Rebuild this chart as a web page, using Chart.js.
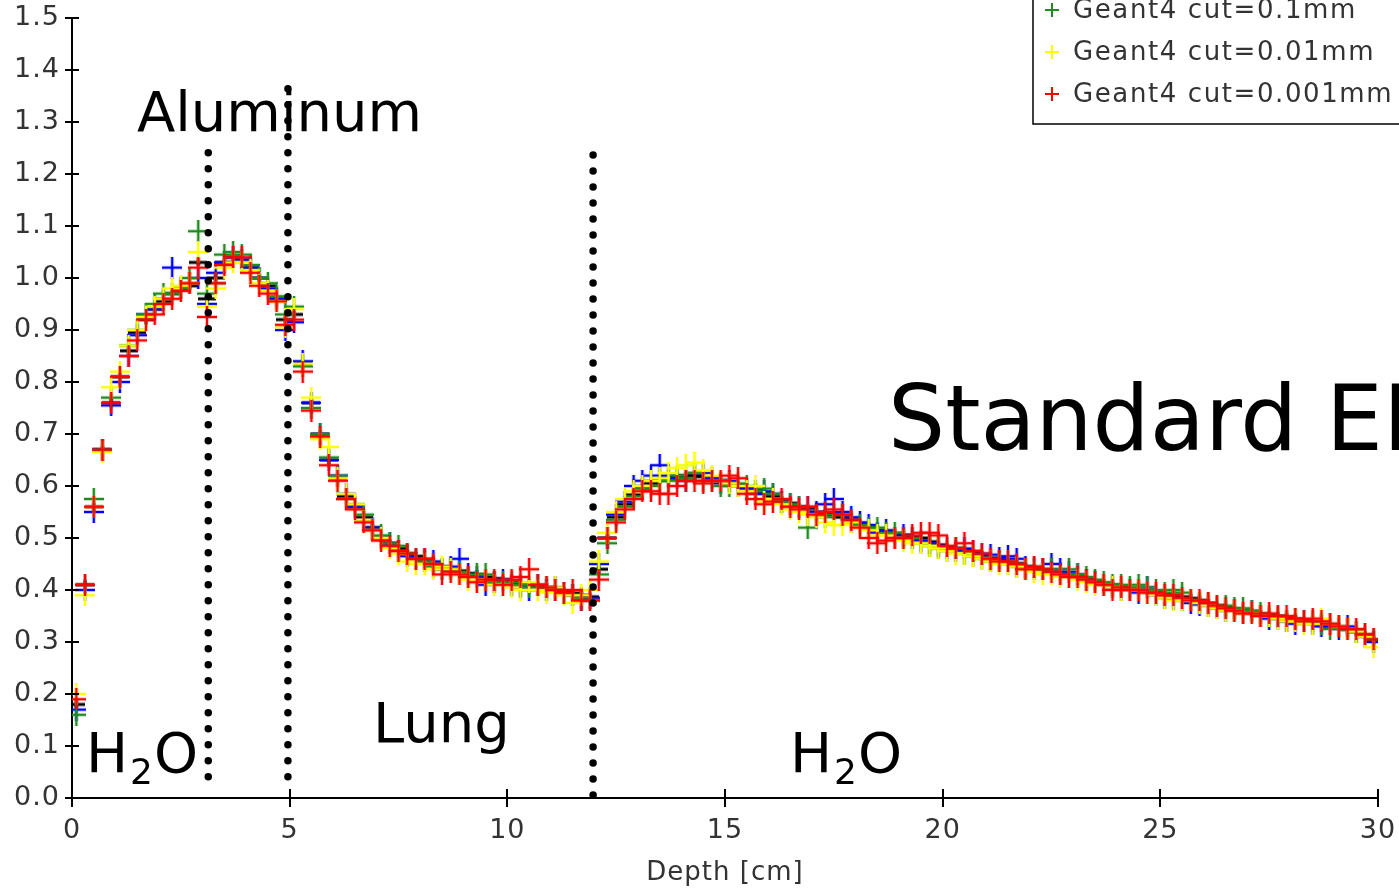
<!DOCTYPE html>
<html><head><meta charset="utf-8">
<script src="https://cdn.jsdelivr.net/npm/chart.js@4/dist/chart.umd.min.js"></script>
<style>html,body{margin:0;padding:0;background:#fff;overflow:hidden}#wrap{position:absolute;left:0;top:0;width:1399px;height:890px}</style>
</head><body><div id="wrap"><canvas id="c" width="1399" height="890"></canvas></div>
<script>
// bin centres [cm]
const depth = [0.1,0.3,0.5,0.7,0.9,1.1,1.3,1.5,1.7,1.9,2.1,2.3,2.5,2.7,2.9,3.1,3.3,3.5,3.7,3.9,
4.1,4.3,4.5,4.7,4.9,5.1,5.3,5.5,5.7,5.9,6.1,6.3,6.5,6.7,6.9,7.1,7.3,7.5,7.7,7.9,
8.1,8.3,8.5,8.7,8.9,9.1,9.3,9.5,9.7,9.9,10.1,10.3,10.5,10.7,10.9,11.1,11.3,11.5,11.7,11.9,
12.1,12.3,12.5,12.7,12.9,13.1,13.3,13.5,13.7,13.9,14.1,14.3,14.5,14.7,14.9,15.1,15.3,15.5,15.7,15.9,
16.1,16.3,16.5,16.7,16.9,17.1,17.3,17.5,17.7,17.9,18.1,18.3,18.5,18.7,18.9,19.1,19.3,19.5,19.7,19.9,
20.1,20.3,20.5,20.7,20.9,21.1,21.3,21.5,21.7,21.9,22.1,22.3,22.5,22.7,22.9,23.1,23.3,23.5,23.7,23.9,
24.1,24.3,24.5,24.7,24.9,25.1,25.3,25.5,25.7,25.9,26.1,26.3,26.5,26.7,26.9,27.1,27.3,27.5,27.7,27.9,
28.1,28.3,28.5,28.7,28.9,29.1,29.3,29.5,29.7,29.9];

const dataRef = [0.18,0.41,0.56,0.67,0.76,0.81,0.86,0.895,0.92,0.94,
0.955,0.97,0.98,0.985,1.03,0.96,1.0,1.03,1.04,1.035,
1.02,1.0,0.985,0.96,0.92,0.93,0.835,0.76,0.70,0.65,
0.615,0.58,0.56,0.54,0.52,0.50,0.49,0.48,0.47,0.465,
0.455,0.45,0.445,0.44,0.437,0.432,0.43,0.425,0.422,0.42,
0.416,0.413,0.41,0.408,0.405,0.402,0.398,0.394,0.39,0.387,
0.44,0.50,0.54,0.565,0.583,0.596,0.605,0.611,0.615,0.618,
0.62,0.62,0.618,0.615,0.611,0.605,0.602,0.596,0.592,0.586,
0.58,0.573,0.567,0.56,0.557,0.55,0.548,0.544,0.54,0.535,
0.528,0.521,0.515,0.512,0.509,0.506,0.502,0.50,0.493,0.487,
0.483,0.48,0.477,0.472,0.467,0.461,0.458,0.454,0.451,0.445,
0.442,0.438,0.435,0.432,0.429,0.425,0.421,0.416,0.413,0.41,
0.406,0.403,0.401,0.399,0.395,0.392,0.39,0.387,0.384,0.38,
0.375,0.37,0.367,0.363,0.36,0.357,0.354,0.352,0.35,0.348,
0.344,0.341,0.338,0.334,0.33,0.328,0.324,0.32,0.313,0.304];

const cut1mm = [0.17,0.40,0.55,0.67,0.755,0.80,0.85,0.89,0.93,0.94,
0.96,1.02,0.98,0.99,1.00,0.95,1.01,1.03,1.04,1.035,
1.02,1.00,0.98,0.96,0.90,0.915,0.84,0.76,0.70,0.65,
0.62,0.585,0.56,0.535,0.52,0.50,0.49,0.475,0.465,0.46,
0.46,0.455,0.44,0.445,0.46,0.43,0.425,0.41,0.415,0.42,
0.41,0.405,0.40,0.41,0.40,0.405,0.395,0.39,0.38,0.385,
0.45,0.50,0.545,0.57,0.60,0.61,0.62,0.64,0.62,0.615,
0.61,0.625,0.625,0.615,0.605,0.61,0.60,0.595,0.585,0.59,
0.585,0.57,0.565,0.56,0.56,0.55,0.565,0.575,0.55,0.54,
0.53,0.525,0.51,0.515,0.50,0.505,0.50,0.495,0.49,0.485,
0.48,0.475,0.48,0.475,0.47,0.468,0.462,0.465,0.46,0.445,
0.44,0.44,0.45,0.44,0.435,0.43,0.42,0.415,0.41,0.405,
0.40,0.40,0.395,0.405,0.39,0.385,0.383,0.38,0.375,0.372,
0.37,0.365,0.36,0.362,0.355,0.36,0.35,0.345,0.348,0.34,
0.335,0.34,0.335,0.33,0.335,0.325,0.33,0.32,0.31,0.30];

const cut01mm = [0.16,0.41,0.575,0.67,0.77,0.81,0.87,0.90,0.93,0.95,
0.97,0.97,0.98,1.00,1.09,0.97,0.99,1.045,1.05,1.045,
1.025,1.0,0.99,0.965,0.93,0.945,0.83,0.75,0.70,0.655,
0.62,0.575,0.565,0.545,0.515,0.505,0.49,0.485,0.47,0.46,
0.455,0.445,0.44,0.44,0.435,0.425,0.43,0.43,0.415,0.415,
0.415,0.41,0.405,0.41,0.405,0.40,0.395,0.39,0.385,0.38,
0.43,0.49,0.535,0.56,0.58,0.595,0.60,0.61,0.61,0.62,
0.615,0.625,0.61,0.61,0.60,0.60,0.605,0.60,0.59,0.595,
0.585,0.57,0.565,0.56,0.52,0.545,0.54,0.545,0.545,0.53,
0.525,0.52,0.52,0.51,0.51,0.50,0.50,0.49,0.485,0.48,
0.475,0.48,0.47,0.465,0.46,0.455,0.455,0.45,0.445,0.44,
0.445,0.44,0.44,0.43,0.44,0.43,0.425,0.42,0.415,0.41,
0.41,0.405,0.41,0.405,0.40,0.395,0.40,0.395,0.38,0.375,
0.375,0.37,0.37,0.365,0.365,0.36,0.355,0.35,0.345,0.34,
0.345,0.34,0.34,0.335,0.325,0.33,0.325,0.32,0.315,0.305];

const cut001mm = [0.20,0.39,0.56,0.665,0.79,0.82,0.87,0.90,0.925,0.945,
0.96,0.98,0.985,0.99,1.05,0.945,0.98,1.02,1.03,1.03,
1.015,0.99,0.975,0.955,0.905,0.94,0.835,0.77,0.69,0.675,
0.615,0.585,0.565,0.535,0.515,0.50,0.48,0.47,0.455,0.45,
0.45,0.44,0.445,0.44,0.43,0.42,0.415,0.42,0.41,0.41,
0.405,0.40,0.415,0.40,0.395,0.405,0.39,0.375,0.39,0.40,
0.455,0.51,0.55,0.575,0.59,0.60,0.61,0.615,0.625,0.635,
0.64,0.645,0.63,0.62,0.61,0.605,0.60,0.59,0.60,0.57,
0.575,0.565,0.555,0.55,0.545,0.54,0.53,0.525,0.525,0.53,
0.52,0.515,0.505,0.505,0.50,0.495,0.49,0.49,0.485,0.48,
0.475,0.47,0.47,0.465,0.46,0.455,0.45,0.45,0.445,0.44,
0.435,0.43,0.43,0.425,0.425,0.42,0.415,0.41,0.41,0.405,
0.40,0.40,0.40,0.395,0.39,0.385,0.38,0.38,0.38,0.375,
0.37,0.365,0.36,0.36,0.355,0.355,0.35,0.35,0.345,0.34,
0.34,0.335,0.335,0.345,0.335,0.33,0.325,0.32,0.31,0.29];

const cut0001mm = [0.19,0.41,0.56,0.67,0.76,0.81,0.85,0.88,0.92,0.93,
0.95,0.96,0.975,0.99,1.02,0.925,0.99,1.025,1.04,1.04,
1.01,0.985,0.97,0.955,0.91,0.92,0.82,0.745,0.695,0.64,
0.61,0.575,0.555,0.53,0.515,0.495,0.485,0.475,0.47,0.46,
0.46,0.45,0.43,0.435,0.43,0.425,0.415,0.42,0.42,0.41,
0.42,0.425,0.44,0.41,0.405,0.40,0.395,0.40,0.38,0.38,
0.42,0.50,0.53,0.555,0.575,0.59,0.59,0.585,0.585,0.60,
0.61,0.61,0.605,0.61,0.61,0.62,0.615,0.585,0.575,0.565,
0.57,0.575,0.56,0.555,0.56,0.545,0.55,0.555,0.545,0.535,
0.52,0.50,0.49,0.495,0.50,0.50,0.505,0.51,0.51,0.505,
0.485,0.48,0.49,0.475,0.47,0.46,0.455,0.455,0.45,0.44,
0.445,0.44,0.435,0.43,0.425,0.425,0.42,0.415,0.41,0.40,
0.405,0.40,0.40,0.395,0.395,0.39,0.39,0.385,0.38,0.38,
0.375,0.37,0.365,0.36,0.355,0.355,0.35,0.355,0.35,0.35,
0.345,0.34,0.345,0.34,0.335,0.33,0.325,0.325,0.315,0.305];

const seriesLabels = ['Data','Geant4 cut=1mm','Geant4 cut=0.1mm','Geant4 cut=0.01mm','Geant4 cut=0.001mm'];
const seriesColors = ['#000000','#0000ff','#1e8c1e','#ffff00','#ff0000'];
const seriesValues = [dataRef, cut1mm, cut01mm, cut001mm, cut0001mm];
const xTicks = [0,5,10,15,20,25,30];
const yTicks = [0,0.1,0.2,0.3,0.4,0.5,0.6,0.7,0.8,0.9,1.0,1.1,1.2,1.3,1.4,1.5];
const boundaries = [3.13, 4.96, 11.97];

function crossMarker(color, hw, hh, t) {
  const c = document.createElement('canvas');
  c.width = hw*2+2; c.height = hh*2+2;
  const g = c.getContext('2d');
  g.fillStyle = color;
  g.fillRect(0, hh+1-t/2, hw*2+2, t);
  g.fillRect(hw+1-t/2, 0, t, hh*2+2);
  return c;
}

const datasets = seriesValues.map((vals, i) => ({
  label: seriesLabels[i],
  data: depth.map((x, k) => ({x: x, y: vals[k]})),
  showLine: false,
  pointStyle: i === 0 ? crossMarker(seriesColors[i], 8, 3, 3) : crossMarker(seriesColors[i], 9, 10, 2.5),
  pointRadius: 9,
  borderColor: seriesColors[i],
  backgroundColor: seriesColors[i],
  order: 5 - i
}));

const FONT = '"DejaVu Sans", sans-serif';

const spacing = {
  id: 'spacing',
  beforeDraw(chart) { chart.ctx.letterSpacing = '1px'; },
  afterDraw(chart) { chart.ctx.letterSpacing = '0px'; }
};

const overlay = {
  id: 'overlay',
  afterDraw(chart) {
    const ctx = chart.ctx, xs = chart.scales.x, ys = chart.scales.y;
    const ca = chart.chartArea;
    ctx.save();
    ctx.letterSpacing = '0px';
    // inner halves of crossing ticks
    ctx.strokeStyle = '#000'; ctx.lineWidth = 2;
    xTicks.forEach(v => { const px = Math.round(xs.getPixelForValue(v)); ctx.beginPath(); ctx.moveTo(px, ca.bottom); ctx.lineTo(px, ca.bottom - 9); ctx.stroke(); });
    yTicks.forEach(v => { const py = Math.round(ys.getPixelForValue(v)); ctx.beginPath(); ctx.moveTo(ca.left, py); ctx.lineTo(ca.left + 7, py); ctx.stroke(); });
    // dotted material boundaries
    ctx.setLineDash([0, 16]); ctx.lineCap = 'round'; ctx.lineWidth = 7.5;
    const tops = [1.27, 1.37, 1.24], bots = [0.035, 0.035, 0.0];
    boundaries.forEach((b, i) => {
      const px = xs.getPixelForValue(b);
      ctx.beginPath(); ctx.moveTo(px, ys.getPixelForValue(bots[i]) - 3); ctx.lineTo(px, ys.getPixelForValue(tops[i])); ctx.stroke();
    });
    ctx.setLineDash([]); ctx.lineCap = 'butt';
    // material labels
    ctx.fillStyle = '#000'; ctx.textBaseline = 'alphabetic'; ctx.textAlign = 'left';
    ctx.font = '56px ' + FONT;
    ctx.fillText('Aluminum', 137, 131);
    ctx.fillText('Lung', 373, 742);
    function h2o(x, y) {
      ctx.font = '56px ' + FONT; ctx.fillText('H', x, y);
      let w = ctx.measureText('H').width + 2;
      ctx.font = '36px ' + FONT; ctx.fillText('2', x + w, y + 12);
      w += ctx.measureText('2').width + 1;
      ctx.font = '56px ' + FONT; ctx.fillText('O', x + w, y);
    }
    h2o(86, 772); h2o(790, 772);
    ctx.font = '90px ' + FONT;
    ctx.fillText('Standard EM', 888, 450);
    // legend (top part lies outside the picture)
    const lx = 1033, lBottom = 124;
    ctx.fillStyle = '#fff'; ctx.fillRect(lx, -120, 400, lBottom + 120);
    ctx.strokeStyle = '#000'; ctx.lineWidth = 1.5; ctx.strokeRect(lx, -120, 400, lBottom + 120);
    ctx.font = '26px ' + FONT; ctx.textBaseline = 'middle'; ctx.letterSpacing = '1.6px';
    seriesLabels.forEach((lab, i) => {
      const cy = 94 - (4 - i) * 42;
      ctx.strokeStyle = seriesColors[i]; ctx.lineWidth = 2;
      ctx.beginPath(); ctx.moveTo(1045, cy); ctx.lineTo(1059, cy); ctx.moveTo(1052, cy - 7); ctx.lineTo(1052, cy + 7); ctx.stroke();
      ctx.fillStyle = '#333'; ctx.fillText(lab, 1073, cy + 1);
    });
    ctx.restore();
  }
};

new Chart(document.getElementById('c'), {
  type: 'scatter',
  data: { datasets: datasets },
  options: {
    responsive: false, animation: false, devicePixelRatio: 1,
    layout: { padding: { top: 18, right: 21, left: 0, bottom: 0 } },
    plugins: { legend: { display: false }, tooltip: { enabled: false } },
    scales: {
      x: {
        type: 'linear', min: 0, max: 30,
        afterBuildTicks: s => { s.ticks = xTicks.map(v => ({ value: v })); },
        afterFit: s => { s.height = 92; s.paddingLeft = 0; s.paddingRight = 0; },
        ticks: { font: { family: FONT, size: 27 }, color: '#333', padding: 8, maxRotation: 0, callback: v => String(v) },
        grid: { drawOnChartArea: false, drawTicks: true, tickLength: 9, color: '#000', lineWidth: 2 },
        border: { color: '#000', width: 2 },
        title: { display: true, text: 'Depth [cm]', font: { family: FONT, size: 26 }, color: '#333', padding: { top: 0, bottom: 1 } }
      },
      y: {
        type: 'linear', min: 0, max: 1.5,
        afterBuildTicks: s => { s.ticks = yTicks.map(v => ({ value: v })); },
        afterFit: s => { s.width = 72; s.paddingTop = 0; s.paddingBottom = 0; },
        ticks: { font: { family: FONT, size: 27 }, color: '#333', padding: 5, callback: v => Number(v).toFixed(1) },
        grid: { drawOnChartArea: false, drawTicks: true, tickLength: 7, color: '#000', lineWidth: 2 },
        border: { color: '#000', width: 2 }
      }
    }
  },
  plugins: [spacing, overlay]
});
</script></body></html>
